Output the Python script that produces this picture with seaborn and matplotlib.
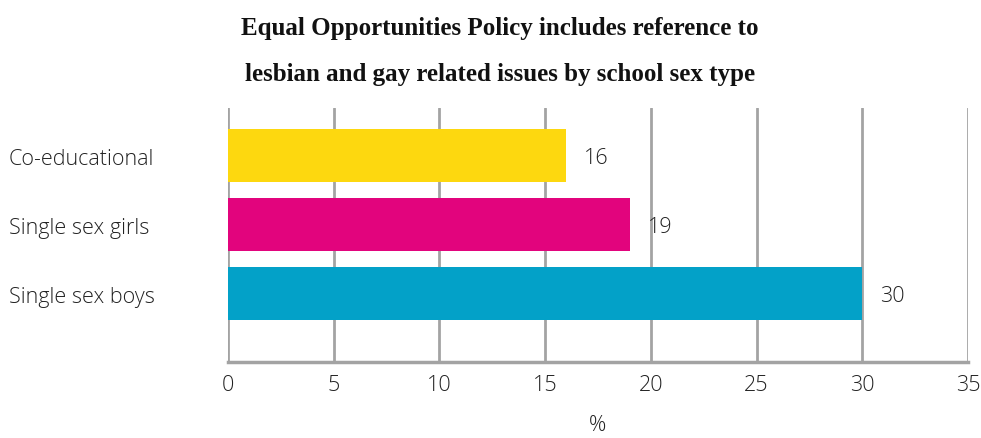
import matplotlib
matplotlib.use("Agg")
import matplotlib.pyplot as plt
import seaborn as sns
import pandas as pd

categories = ["Co-educational", "Single sex girls", "Single sex boys"]
values = [16, 19, 30]
colors = ["#FDD80F", "#E2047D", "#03A1C8"]
xticks = [0, 5, 10, 15, 20, 25, 30, 35]
title_lines = ["Equal Opportunities Policy includes reference to",
               "lesbian and gay related issues by school sex type"]

sns.set_theme(style="white")
plt.rcParams['font.family'] = ['Open Sans', 'DejaVu Sans']

df = pd.DataFrame({"cat": categories, "val": values})

fig = plt.figure(figsize=(9.81, 4.39), dpi=100)
ax = fig.add_axes([228/981, 1-363/439, (968-228)/981, (363-109)/439])

sns.barplot(data=df, x="val", y="cat", hue="cat", palette=colors,
            order=categories, hue_order=categories, dodge=False,
            width=0.77, legend=False, ax=ax, zorder=3, saturation=1,
            linewidth=0)

ax.set_xlim(0, 35)
ax.set_ylim(2.993, -0.69)
ax.set_xticks(xticks)
ax.set_xticklabels([str(t) for t in xticks], fontsize=15.5, color="#222222",
                   fontweight="light")
ax.grid(axis="x", color="#a3a3a3", linewidth=2.0, zorder=0)
ax.grid(axis="y", visible=False)
for s in ["top", "right", "left"]:
    ax.spines[s].set_visible(False)
ax.spines["bottom"].set_color("#a3a3a3")
ax.spines["bottom"].set_linewidth(2.5)
ax.tick_params(axis="x", length=0, pad=9)
ax.tick_params(axis="y", length=0, pad=158)
for lbl in ax.get_yticklabels():
    lbl.set_horizontalalignment("left")
    lbl.set_fontsize(15.5)
    lbl.set_fontweight("light")
    lbl.set_color("#222222")
ax.set_ylabel("")
ax.set_xlabel("%", fontsize=15.5, color="#222222", labelpad=13, fontweight="light")

for i, v in enumerate(values):
    ax.annotate(str(v), xy=(v, i), xytext=(18, -2), textcoords="offset pixels",
                ha="left", va="center", fontsize=15.5, color="#222222",
                fontweight="light")

fig.text(500/981, 1-28/439, title_lines[0], ha="center", va="center",
         fontsize=18, fontweight="bold", family=["Liberation Serif"], color="#111111")
fig.text(500/981, 1-75/439, title_lines[1], ha="center", va="center",
         fontsize=18, fontweight="bold", family=["Liberation Serif"], color="#111111")

fig.savefig("out.png", dpi=100)
